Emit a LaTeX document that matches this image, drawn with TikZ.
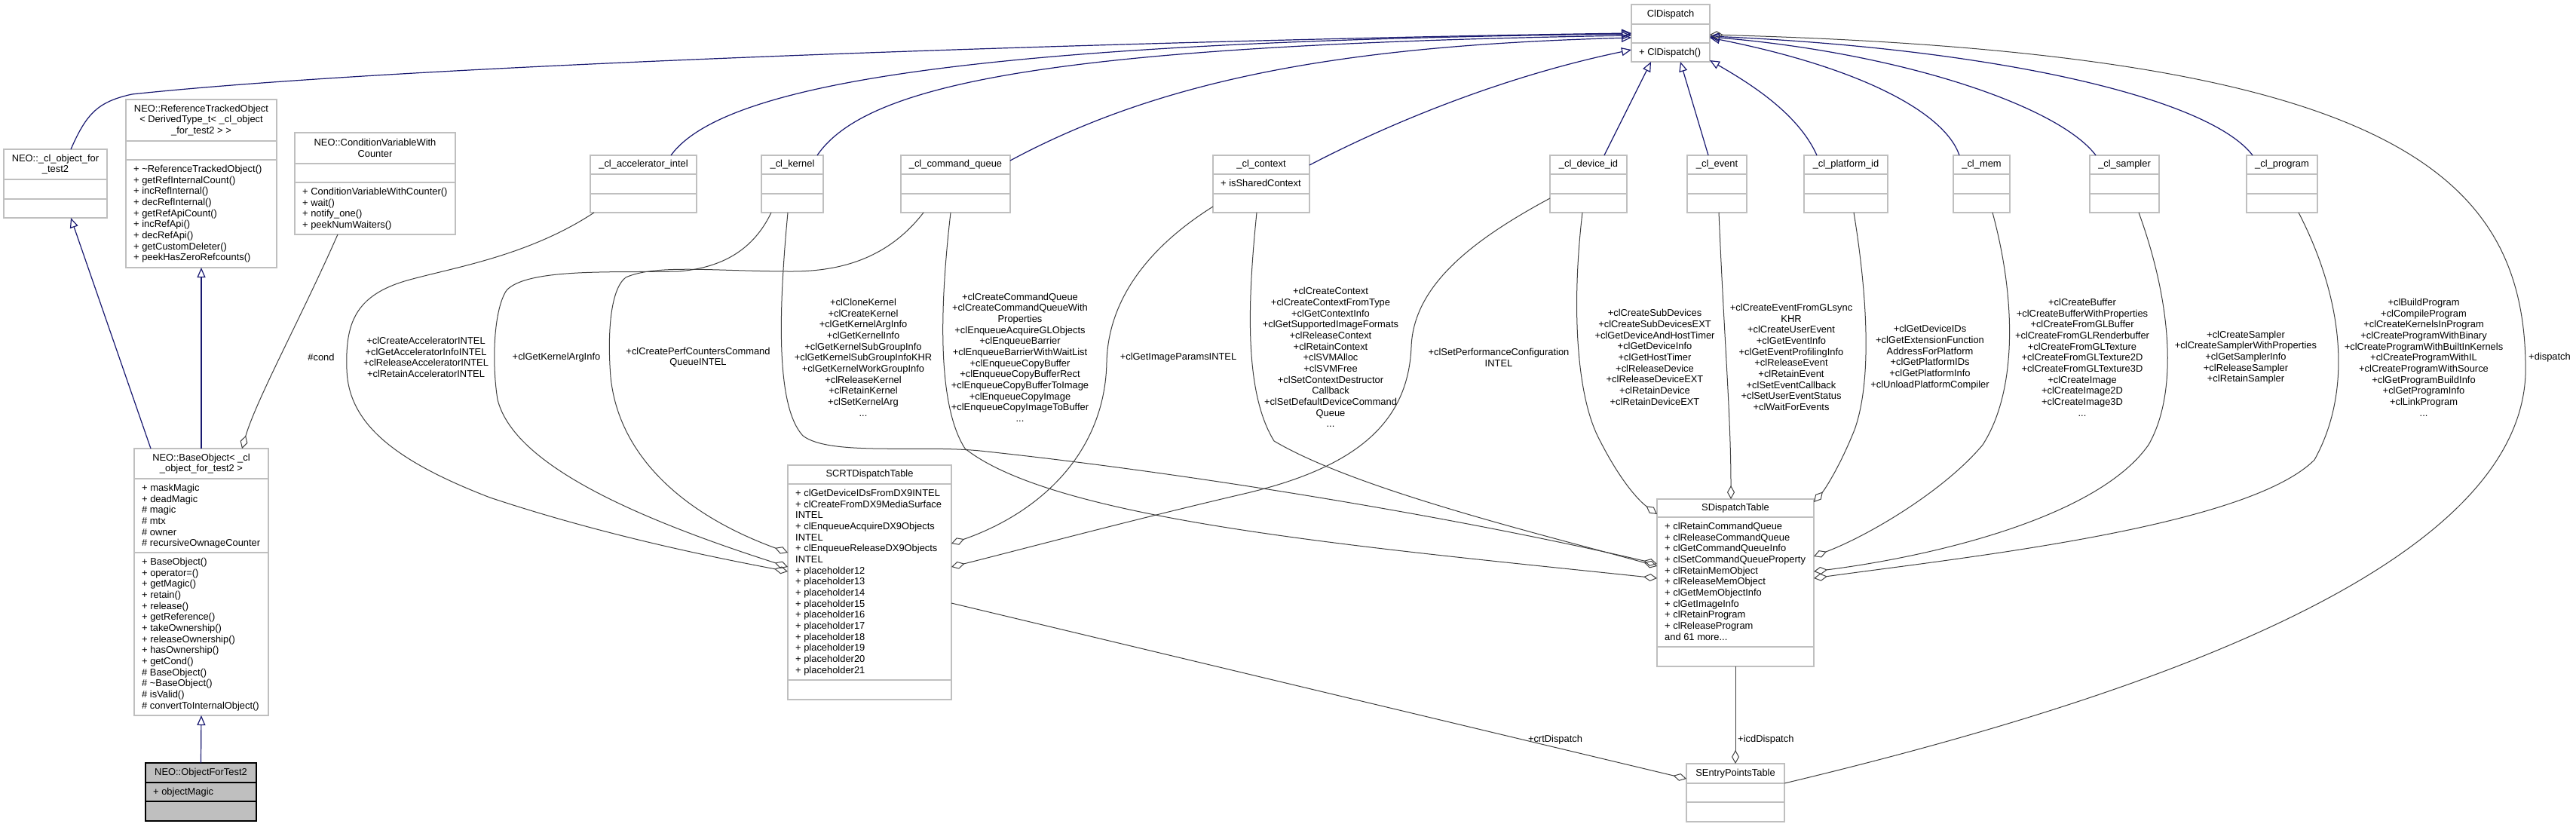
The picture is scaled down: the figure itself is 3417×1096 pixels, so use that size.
\documentclass[tikz,border=0pt]{standalone}
\usepackage{fontspec}
\setmainfont{Liberation Sans}
\usetikzlibrary{arrows.meta}

\definecolor{boxgray}{HTML}{BFBFBF}
\definecolor{navyedge}{HTML}{191970}
\definecolor{aggredge}{HTML}{404040}

\newcommand{\umlfont}{\fontsize{12.9}{14.67}\selectfont}

\tikzset{
  umlbox/.style={draw=boxgray,line width=1.3pt,fill=white,inner sep=0pt,outer sep=0pt},
  boxsep/.style={draw=boxgray,line width=1.3pt},
  titletext/.style={font=\umlfont,align=center,inner sep=0pt},
  memtext/.style={font=\umlfont,align=left,inner sep=0pt,anchor=north west},
  lbltext/.style={font=\umlfont,align=center,inner sep=0pt},
  inherit/.style={draw=navyedge,line width=1.2pt,-{Triangle[open,length=13pt,width=11pt]}},
  aggr/.style={draw=aggredge,line width=1pt,-{Diamond[open,length=18pt,width=10pt]}}
}

% box with two separators: [opts] name x1 y1 x2 y2 sep1 sep2 title
\newcommand{\classbox}[9][]{%
  \pgfmathsetmacro{\boxw}{#5-#3}%
  \pgfmathsetmacro{\boxh}{#6-#4}%
  \node[umlbox,#1,anchor=north west,minimum width=\boxw pt,minimum height=\boxh pt] (#2) at (#3,#4) {};
  \draw[boxsep,#1] (#3,#7) -- (#5,#7) (#3,#8) -- (#5,#8);
  \node[titletext] (#2title) at ({(#3+#5)/2},{(#4+#7)/2}) {#9};
}

\begin{document}
\begin{tikzpicture}[x=1pt,y=-1pt]
\useasboundingbox (0,0) rectangle (3417,1096);
\fill[white] (0,0) rectangle (3417,1096);

% classes
\classbox{cldisp}{2164}{6}{2268}{82}{32}{57}{ClDispatch}
\node[memtext] (cldispops) at (2174,64) {+ ClDispatch()};

\classbox{objtwo}{5}{198}{142}{289}{238}{264}{NEO::\_cl\_object\_for\\\_test2}
\classbox{reftrack}{167}{132}{367}{355}{187}{212}{NEO::ReferenceTrackedObject\\< DerivedType\_t< \_cl\_object\\\_for\_test2 > >}
\node[memtext] (reftrackops) at (177,219) {+ \textasciitilde ReferenceTrackedObject()\\+ getRefInternalCount()\\+ incRefInternal()\\+ decRefInternal()\\+ getRefApiCount()\\+ incRefApi()\\+ decRefApi()\\+ getCustomDeleter()\\+ peekHasZeroRefcounts()};
\classbox{condvar}{391}{176}{604}{311}{217}{242}{NEO::ConditionVariableWith\\Counter}
\node[memtext] (condvarops) at (401,249) {+ ConditionVariableWithCounter()\\+ wait()\\+ notify\_one()\\+ peekNumWaiters()};

\classbox{accel}{783}{206}{924}{282}{231}{257}{\_cl\_accelerator\_intel}
\classbox{kernel}{1010}{206}{1092}{282}{231}{257}{\_cl\_kernel}
\classbox{cmdq}{1195}{206}{1340}{282}{231}{257}{\_cl\_command\_queue}
\classbox{context}{1609}{206}{1737}{282}{231}{257}{\_cl\_context}
\node[memtext] (contextattr) at (1619,238) {+ isSharedContext};
\classbox{devid}{2056}{206}{2158}{282}{231}{257}{\_cl\_device\_id}
\classbox{event}{2238}{206}{2317}{282}{231}{257}{\_cl\_event}
\classbox{platid}{2393}{206}{2504}{282}{231}{257}{\_cl\_platform\_id}
\classbox{mem}{2591}{206}{2666}{282}{231}{257}{\_cl\_mem}
\classbox{sampler}{2772}{206}{2864}{282}{231}{257}{\_cl\_sampler}
\classbox{program}{2980}{206}{3074}{282}{231}{257}{\_cl\_program}

\classbox{baseobj}{178}{595}{356}{949}{635}{733}{NEO::BaseObject< \_cl\\\_object\_for\_test2 >}
\node[memtext] (baseobjattr) at (188,642) {+ maskMagic\\+ deadMagic\\\# magic\\\# mtx\\\# owner\\\# recursiveOwnageCounter};
\node[memtext] (baseobjops) at (188,740) {+ BaseObject()\\+ operator=()\\+ getMagic()\\+ retain()\\+ release()\\+ getReference()\\+ takeOwnership()\\+ releaseOwnership()\\+ hasOwnership()\\+ getCond()\\\# BaseObject()\\\# \textasciitilde BaseObject()\\\# isValid()\\\# convertToInternalObject()};
\classbox[draw=black,fill=boxgray]{objtest}{193}{1012}{340}{1089}{1038}{1063}{NEO::ObjectForTest2}
\node[memtext] (objtestattr) at (203,1045) {+ objectMagic};

\classbox{scrt}{1045}{617}{1262}{928}{642}{902}{SCRTDispatchTable}
\node[memtext] (scrtattr) at (1055,649) {+ clGetDeviceIDsFromDX9INTEL\\+ clCreateFromDX9MediaSurface\\INTEL\\+ clEnqueueAcquireDX9Objects\\INTEL\\+ clEnqueueReleaseDX9Objects\\INTEL\\+ placeholder12\\+ placeholder13\\+ placeholder14\\+ placeholder15\\+ placeholder16\\+ placeholder17\\+ placeholder18\\+ placeholder19\\+ placeholder20\\+ placeholder21};
\classbox{sdisp}{2198}{662}{2406}{884}{686}{858}{SDispatchTable}
\node[memtext] (sdispattr) at (2208,693) {+ clRetainCommandQueue\\+ clReleaseCommandQueue\\+ clGetCommandQueueInfo\\+ clSetCommandQueueProperty\\+ clRetainMemObject\\+ clReleaseMemObject\\+ clGetMemObjectInfo\\+ clGetImageInfo\\+ clRetainProgram\\+ clReleaseProgram\\and 61 more...};
\classbox{sentry}{2237}{1013}{2367}{1090}{1039}{1064}{SEntryPointsTable}

% inheritance
\draw[inherit] ([xshift=89pt]objtwo.north west) .. controls (115,150) and (130,135) .. (175,125) .. controls (600,80) and (1700,50) .. ([yshift=-38pt]cldisp.north west);
\path ([xshift=22pt]baseobj.north west) edge[inherit] ([xshift=89pt]objtwo.south west);
\path (baseobj.north) edge[inherit] (reftrack.south);
\path (objtest.north) edge[inherit] (baseobj.south);
\draw[inherit] ([xshift=107pt]accel.north west) .. controls (960,110) and (1300,55) .. ([yshift=-39pt]cldisp.north west);
\draw[inherit] ([xshift=74pt]kernel.north west) .. controls (1150,110) and (1400,60) .. ([yshift=-41pt]cldisp.north west);
\draw[inherit] ([yshift=-7pt]cmdq.north east) .. controls (1550,100) and (1800,60) .. ([yshift=-44pt]cldisp.north west);
\draw[inherit] ([yshift=-13pt]context.north east) .. controls (1850,160) and (2000,100) .. ([yshift=-60pt]cldisp.north west);
\path ([xshift=72pt]devid.north west) edge[inherit] ([xshift=26pt]cldisp.south west);
\path ([xshift=28pt]event.north west) edge[inherit] ([xshift=65pt]cldisp.south west);
\draw[inherit] ([xshift=17pt]platid.north west) .. controls (2385,150) and (2320,110) .. ([yshift=2pt]cldisp.south east);
\draw[inherit] ([xshift=8pt]mem.north west) .. controls (2580,150) and (2470,90) .. ([yshift=-44pt]cldisp.north east);
\draw[inherit] ([xshift=8pt]sampler.north west) .. controls (2730,140) and (2520,70) .. ([yshift=-43pt]cldisp.north east);
\draw[inherit] ([xshift=8pt]program.north west) .. controls (2930,130) and (2650,65) .. ([yshift=-42pt]cldisp.north east);

% aggregation
\draw[aggr] ([yshift=-26pt]sentry.north east) .. controls (2950,900) and (3360,720) .. (3350,480) .. controls (3345,220) and (3150,70) .. ([yshift=-40pt]cldisp.north east);
\draw[aggr] ([xshift=57pt]condvar.south west) .. controls (400,420) and (340,530) .. ([xshift=143pt]baseobj.north west);
\draw[aggr] ([xshift=5pt]accel.south west) .. controls (700,340) and (600,355) .. (540,372) .. controls (470,392) and (458,430) .. (460,490) .. controls (462,560) and (520,610) .. (650,660) .. controls (800,710) and (950,740) .. ([yshift=-141pt]scrt.north west);
\draw[aggr] ([xshift=13pt]kernel.south west) .. controls (1000,330) and (960,355) .. (900,360) .. controls (820,362) and (700,355) .. (672,385) .. controls (655,410) and (652,480) .. (660,530) .. controls (680,610) and (820,680) .. ([yshift=-135pt]scrt.north west);
\draw[aggr] ([xshift=30pt]cmdq.south west) .. controls (1180,340) and (1120,360) .. (1050,360) .. controls (950,360) and (870,350) .. (830,368) .. controls (808,385) and (806,450) .. (810,500) .. controls (820,600) and (900,680) .. ([yshift=-116pt]scrt.north west);
\draw[aggr] ([yshift=8pt]context.south west) .. controls (1520,330) and (1470,400) .. (1468,480) .. controls (1466,600) and (1380,680) .. ([yshift=-104pt]scrt.north east);
\draw[aggr] ([yshift=19pt]devid.south west) .. controls (1950,320) and (1875,380) .. (1872,460) .. controls (1868,560) and (1800,620) .. (1650,655) .. controls (1500,690) and (1350,730) .. ([yshift=-135pt]scrt.north east);
\draw[aggr] ([xshift=35pt]kernel.south west) .. controls (1032,420) and (1030,540) .. (1065,578) .. controls (1100,605) and (1220,590) .. (1300,598) .. controls (1600,630) and (1950,690) .. ([yshift=-86pt]sdisp.north west);
\draw[aggr] ([xshift=66pt]cmdq.south west) .. controls (1245,420) and (1245,540) .. (1280,595) .. controls (1400,690) and (1800,725) .. ([yshift=-105pt]sdisp.north west);
\draw[aggr] ([xshift=58pt]context.south west) .. controls (1655,400) and (1650,520) .. (1690,585) .. controls (1800,650) and (2050,710) .. ([yshift=-89pt]sdisp.north west);
\draw[aggr] ([xshift=43pt]devid.south west) .. controls (2085,400) and (2090,520) .. (2120,580) .. controls (2150,640) and (2175,665) .. ([yshift=-20pt]sdisp.north west);
\draw[aggr] ([xshift=42pt]event.south west) .. controls (2287,450) and (2296,550) .. ([xshift=98pt]sdisp.north west);
\draw[aggr] ([xshift=66pt]platid.south west) .. controls (2475,380) and (2485,500) .. (2460,570) .. controls (2440,620) and (2420,650) .. ([yshift=-4pt]sdisp.north east);
\draw[aggr] ([xshift=52pt]mem.south west) .. controls (2675,400) and (2675,520) .. (2630,590) .. controls (2580,650) and (2480,710) .. ([yshift=-76pt]sdisp.north east);
\draw[aggr] ([xshift=65pt]sampler.south west) .. controls (2880,400) and (2890,520) .. (2850,590) .. controls (2780,690) and (2550,740) .. ([yshift=-96pt]sdisp.north east);
\draw[aggr] ([xshift=69pt]program.south west) .. controls (3110,400) and (3120,520) .. (3070,610) .. controls (2980,700) and (2600,740) .. ([yshift=-105pt]sdisp.north east);
\path ([yshift=-183pt]scrt.north east) edge[aggr] ([yshift=-20pt]sentry.north west);
\path (sdisp.south) edge[aggr] (sentry.north);

% edge labels
\node[lbltext] (lblcond) at (426,474) {\#cond};
\node[lbltext] (lblaccel) at (565,474) {+clCreateAcceleratorINTEL\\+clGetAcceleratorInfoINTEL\\+clReleaseAcceleratorINTEL\\+clRetainAcceleratorINTEL};
\node[lbltext] (lblkarg) at (738,474) {+clGetKernelArgInfo};
\node[lbltext] (lblperf) at (926,474) {+clCreatePerfCountersCommand\\QueueINTEL};
\node[lbltext] (lblkernel) at (1145,474) {+clCloneKernel\\+clCreateKernel\\+clGetKernelArgInfo\\+clGetKernelInfo\\+clGetKernelSubGroupInfo\\+clGetKernelSubGroupInfoKHR\\+clGetKernelWorkGroupInfo\\+clReleaseKernel\\+clRetainKernel\\+clSetKernelArg\\...};
\node[lbltext] (lblcmdq) at (1353,474) {+clCreateCommandQueue\\+clCreateCommandQueueWith\\Properties\\+clEnqueueAcquireGLObjects\\+clEnqueueBarrier\\+clEnqueueBarrierWithWaitList\\+clEnqueueCopyBuffer\\+clEnqueueCopyBufferRect\\+clEnqueueCopyBufferToImage\\+clEnqueueCopyImage\\+clEnqueueCopyImageToBuffer\\...};
\node[lbltext] (lblimg) at (1563,474) {+clGetImageParamsINTEL};
\node[lbltext] (lblcontext) at (1765,474) {+clCreateContext\\+clCreateContextFromType\\+clGetContextInfo\\+clGetSupportedImageFormats\\+clReleaseContext\\+clRetainContext\\+clSVMAlloc\\+clSVMFree\\+clSetContextDestructor\\Callback\\+clSetDefaultDeviceCommand\\Queue\\...};
\node[lbltext] (lblperfcfg) at (1988,474) {+clSetPerformanceConfiguration\\INTEL};
\node[lbltext] (lbldevid) at (2195,474) {+clCreateSubDevices\\+clCreateSubDevicesEXT\\+clGetDeviceAndHostTimer\\+clGetDeviceInfo\\+clGetHostTimer\\+clReleaseDevice\\+clReleaseDeviceEXT\\+clRetainDevice\\+clRetainDeviceEXT};
\node[lbltext] (lblevent) at (2376,474) {+clCreateEventFromGLsync\\KHR\\+clCreateUserEvent\\+clGetEventInfo\\+clGetEventProfilingInfo\\+clReleaseEvent\\+clRetainEvent\\+clSetEventCallback\\+clSetUserEventStatus\\+clWaitForEvents};
\node[lbltext] (lblplat) at (2560,474) {+clGetDeviceIDs\\+clGetExtensionFunction\\AddressForPlatform\\+clGetPlatformIDs\\+clGetPlatformInfo\\+clUnloadPlatformCompiler};
\node[lbltext] (lblmem) at (2762,474) {+clCreateBuffer\\+clCreateBufferWithProperties\\+clCreateFromGLBuffer\\+clCreateFromGLRenderbuffer\\+clCreateFromGLTexture\\+clCreateFromGLTexture2D\\+clCreateFromGLTexture3D\\+clCreateImage\\+clCreateImage2D\\+clCreateImage3D\\...};
\node[lbltext] (lblsampler) at (2979,474) {+clCreateSampler\\+clCreateSamplerWithProperties\\+clGetSamplerInfo\\+clReleaseSampler\\+clRetainSampler};
\node[lbltext] (lblprogram) at (3215,474) {+clBuildProgram\\+clCompileProgram\\+clCreateKernelsInProgram\\+clCreateProgramWithBinary\\+clCreateProgramWithBuiltInKernels\\+clCreateProgramWithIL\\+clCreateProgramWithSource\\+clGetProgramBuildInfo\\+clGetProgramInfo\\+clLinkProgram\\...};
\node[lbltext,anchor=west] (lbldispatch) at (3354,474) {+dispatch};
\node[lbltext] (lblcrt) at (2063,981) {+crtDispatch};
\node[lbltext,anchor=west] (lblicd) at (2305,981) {+icdDispatch};
\end{tikzpicture}
\end{document}
